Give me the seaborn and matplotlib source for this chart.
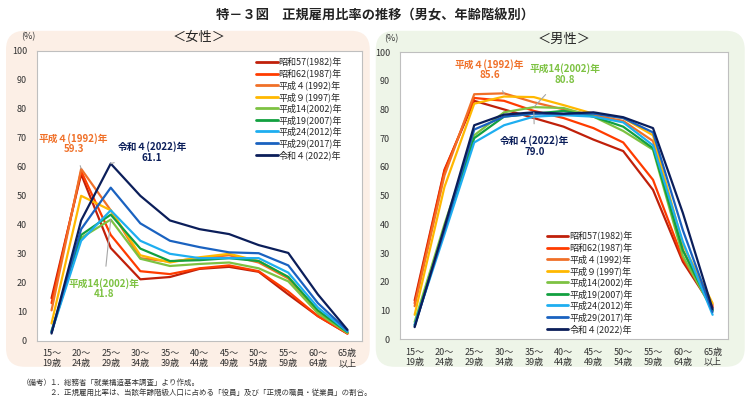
import matplotlib
matplotlib.use("Agg")
import matplotlib.pyplot as plt
import seaborn as sns
import pandas as pd
import numpy as np
from matplotlib.patches import FancyBboxPatch
from matplotlib.lines import Line2D

sns.set_theme(style="white")
plt.rcParams['font.family'] = ['Noto Sans CJK JP', 'DejaVu Sans']

ages = ["15～\n19歳", "20～\n24歳", "25～\n29歳", "30～\n34歳", "35～\n39歳", "40～\n44歳",
        "45～\n49歳", "50～\n54歳", "55～\n59歳", "60～\n64歳", "65歳\n以上"]
years = ["昭和57(1982)年", "昭和62(1987)年", "平成４(1992)年", "平成９(1997)年", "平成14(2002)年",
         "平成19(2007)年", "平成24(2012)年", "平成29(2017)年", "令和４(2022)年"]
colors = ["#C0200A", "#FF3C00", "#F07028", "#FFB800", "#7DC242", "#12A040", "#1EAEF0", "#1A62C0", "#0B1E5A"]

women_1982 = [14.7, 57.5, 32.0, 21.2, 22.0, 24.8, 25.5, 23.8, 16.0, 8.5, 2.5]
women_1987 = [13.0, 58.5, 36.5, 24.0, 23.0, 25.0, 26.0, 24.0, 17.0, 8.5, 2.5]
women_1992 = [10.5, 59.3, 45.0, 28.5, 27.3, 28.5, 29.5, 27.0, 21.5, 9.5, 2.6]
women_1997 = [6.0, 50.0, 45.0, 29.5, 27.0, 28.8, 30.0, 27.5, 22.0, 10.0, 2.8]
women_2002 = [3.5, 35.5, 41.8, 28.3, 25.8, 26.5, 27.0, 25.0, 20.5, 9.5, 2.8]
women_2007 = [3.0, 36.5, 43.5, 31.8, 27.5, 27.8, 28.5, 27.5, 22.0, 10.5, 3.0]
women_2012 = [3.0, 34.5, 45.0, 34.5, 30.0, 28.5, 28.5, 28.5, 23.5, 11.5, 3.2]
women_2017 = [3.0, 38.5, 52.8, 40.5, 34.5, 32.3, 30.5, 30.2, 26.0, 13.0, 3.5]
women_2022 = [2.5, 41.5, 61.1, 50.0, 41.5, 38.5, 36.8, 33.0, 30.3, 16.0, 3.8]

men_1982 = [13.5, 59.0, 83.0, 80.0, 77.0, 74.0, 69.5, 65.5, 52.0, 27.0, 11.0]
men_1987 = [12.5, 58.5, 84.0, 83.0, 79.5, 77.0, 73.5, 68.5, 55.5, 28.0, 11.5]
men_1992 = [11.5, 57.0, 85.3, 85.6, 82.5, 80.0, 78.0, 76.0, 69.0, 31.0, 12.0]
men_1997 = [8.5, 53.0, 82.0, 84.5, 84.3, 81.5, 78.5, 77.0, 71.0, 33.0, 12.5]
men_2002 = [6.0, 40.0, 71.0, 79.0, 80.8, 80.5, 77.5, 72.5, 66.0, 29.0, 10.0]
men_2007 = [5.0, 38.0, 70.0, 77.5, 78.5, 79.5, 77.5, 74.0, 66.5, 31.0, 10.0]
men_2012 = [5.0, 36.5, 68.5, 74.5, 77.5, 78.0, 77.5, 75.5, 67.5, 34.0, 8.5]
men_2017 = [4.5, 38.0, 73.0, 77.5, 78.5, 78.5, 78.5, 77.0, 72.0, 38.0, 9.5]
men_2022 = [4.2, 39.0, 74.5, 78.2, 79.0, 78.5, 79.0, 77.3, 73.5, 44.0, 10.5]

women = [women_1982, women_1987, women_1992, women_1997, women_2002, women_2007, women_2012, women_2017, women_2022]
men = [men_1982, men_1987, men_1992, men_1997, men_2002, men_2007, men_2012, men_2017, men_2022]


def to_df(series):
    rows = []
    for y, vals in zip(years, series):
        for i, v in enumerate(vals):
            rows.append({"year": y, "pos": i, "value": v})
    return pd.DataFrame(rows)


fig = plt.figure(figsize=(7.5, 4), dpi=100)

# background panels
for (x0, w, fc) in [(0.008, 0.485, "#FCEFE6"), (0.501, 0.492, "#EEF5E8")]:
    p = FancyBboxPatch((x0, 0.083), w, 0.84, boxstyle="round,pad=0,rounding_size=0.025",
                       transform=fig.transFigure, fc=fc, ec="none", zorder=-10,
                       mutation_aspect=750 / 400)
    fig.patches.append(p)

fig.text(0.5, 0.962, "特－３図　正規雇用比率の推移（男女、年齢階級別）", ha="center", va="center",
         fontsize=9.5, fontweight="bold", color="#222222")

axL = fig.add_axes([0.049, 0.148, 0.434, 0.725])
axR = fig.add_axes([0.533, 0.152, 0.437, 0.718])

pal = dict(zip(years, colors))
for ax, data, title in [(axL, women, "＜女性＞"), (axR, men, "＜男性＞")]:
    df = to_df(data)
    sns.lineplot(data=df, x="pos", y="value", hue="year", palette=pal, hue_order=years,
                 linewidth=1.6, ax=ax, legend=False, sort=False)
    ax.set_xlim(-0.5, 10.5)
    ax.set_ylim(0, 100)
    ax.set_yticks(np.arange(0, 101, 10))
    ax.set_xticks(range(11))
    ax.set_xticklabels(ages, fontsize=6.5, color="#333333", linespacing=1.15)
    ax.set_xticks(np.arange(0.5, 10.5, 1), minor=True)
    ax.tick_params(axis="x", which="major", length=0, pad=6)
    ax.tick_params(axis="x", which="minor", length=3, direction="in", color="#BBBBBB")
    ax.tick_params(axis="y", length=3, direction="in", color="#BBBBBB", labelsize=6.5,
                   labelcolor="#333333", pad=7)
    ax.set_xlabel("")
    ax.set_ylabel("")
    ax.set_facecolor("white")
    for s in ax.spines.values():
        s.set_color("#BFBFBF")
        s.set_linewidth(0.8)
    ax.text(-0.003, 1.048, "(%)", transform=ax.transAxes, fontsize=6.5, ha="right", va="center", color="#333333")
    ax.text(0.5, 1.045, title, transform=ax.transAxes, fontsize=9.5, ha="center", va="center", color="#222222")

# legends
handles = [Line2D([0], [0], color=c, lw=2) for c in colors]
axL.legend(handles, years, loc="upper right", bbox_to_anchor=(0.955, 0.995), frameon=False,
           fontsize=6.5, handlelength=2.4, handletextpad=0.1, labelspacing=0.2, borderaxespad=0.2)
axR.legend(handles, years, loc="lower center", bbox_to_anchor=(0.58, 0.0), frameon=False,
           fontsize=6.5, handlelength=2.4, handletextpad=0.1, labelspacing=0.2, borderaxespad=0.2)


def note(ax, text, xy, xytext, color):
    ax.annotate(text, xy=xy, xytext=xytext, textcoords="data", ha="center", va="center",
                fontsize=7, fontweight="bold", color=color, linespacing=1.1,
                arrowprops=dict(arrowstyle="-", color="#A6A6A6", lw=0.8, shrinkA=6, shrinkB=0))


note(axL, "平成４(1992)年\n59.3", (1, women_1992[1]), (0.75, 68), colors[2])
note(axL, "令和４(2022)年\n61.1", (2, women_2022[2]), (3.4, 65), colors[8])
note(axL, "平成14(2002)年\n41.8", (2, women_2002[2]), (1.76, 18), colors[4])
note(axR, "平成４(1992)年\n85.6", (3, men_1992[3]), (2.52, 93.9), colors[2])
note(axR, "平成14(2002)年\n80.8", (4, men_2002[4]), (5.03, 92.2), colors[4])
note(axR, "令和４(2022)年\n79.0", (4, men_2022[4]), (4.03, 67.2), colors[8])

fig.text(0.029, 0.043, "（備考）", fontsize=5.4, color="#333333", va="center")
fig.text(0.066, 0.043, "１．総務省「就業構造基本調査」より作成。", fontsize=5.4, color="#333333", va="center")
fig.text(0.066, 0.019, "２．正規雇用比率は、当該年齢階級人口に占める「役員」及び「正規の職員・従業員」の割合。",
         fontsize=5.4, color="#333333", va="center")

fig.savefig("out.png", dpi=100)
